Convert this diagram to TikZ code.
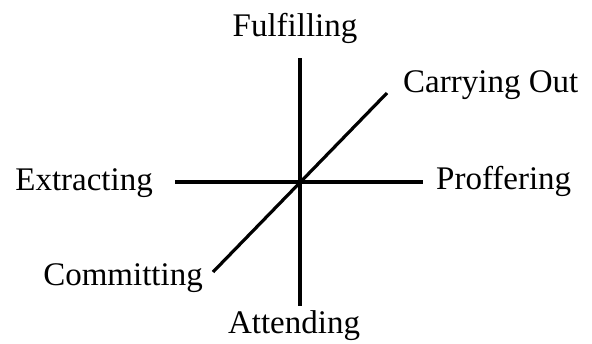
\documentclass[tikz,border=0pt]{standalone}
\usepackage{fontspec}
\setmainfont{Liberation Serif}
\begin{document}
\begin{tikzpicture}[x=1pt,y=-1pt,
  lbl/.style={inner sep=0pt,font=\fontsize{33}{38}\selectfont},
  axis/.style={line width=3.2pt,black}]
\useasboundingbox (0,0) rectangle (592,343);
\coordinate (c) at (300,182);
\coordinate (vt) at (300,58);
\coordinate (vb) at (300,306);
\coordinate (hl) at (175,182);
\coordinate (hr) at (423,182);
\coordinate (dt) at (387,93);
\coordinate (db) at (213,272);
\draw[axis] (vt) -- (vb);
\draw[axis] (hl) -- (hr);
\draw[axis] (db) -- (dt);
\node[lbl,anchor=base] (ful) at (295,36) {Fulfilling};
\node[lbl,anchor=base west] (car) at (403,92) {Carrying Out};
\node[lbl,anchor=base west] (pro) at (436,189) {Proffering};
\node[lbl,anchor=base east] (ext) at (153,190) {Extracting};
\node[lbl,anchor=base east] (com) at (203,285) {Committing};
\node[lbl,anchor=base] (att) at (294,333) {Attending};
\end{tikzpicture}
\end{document}
